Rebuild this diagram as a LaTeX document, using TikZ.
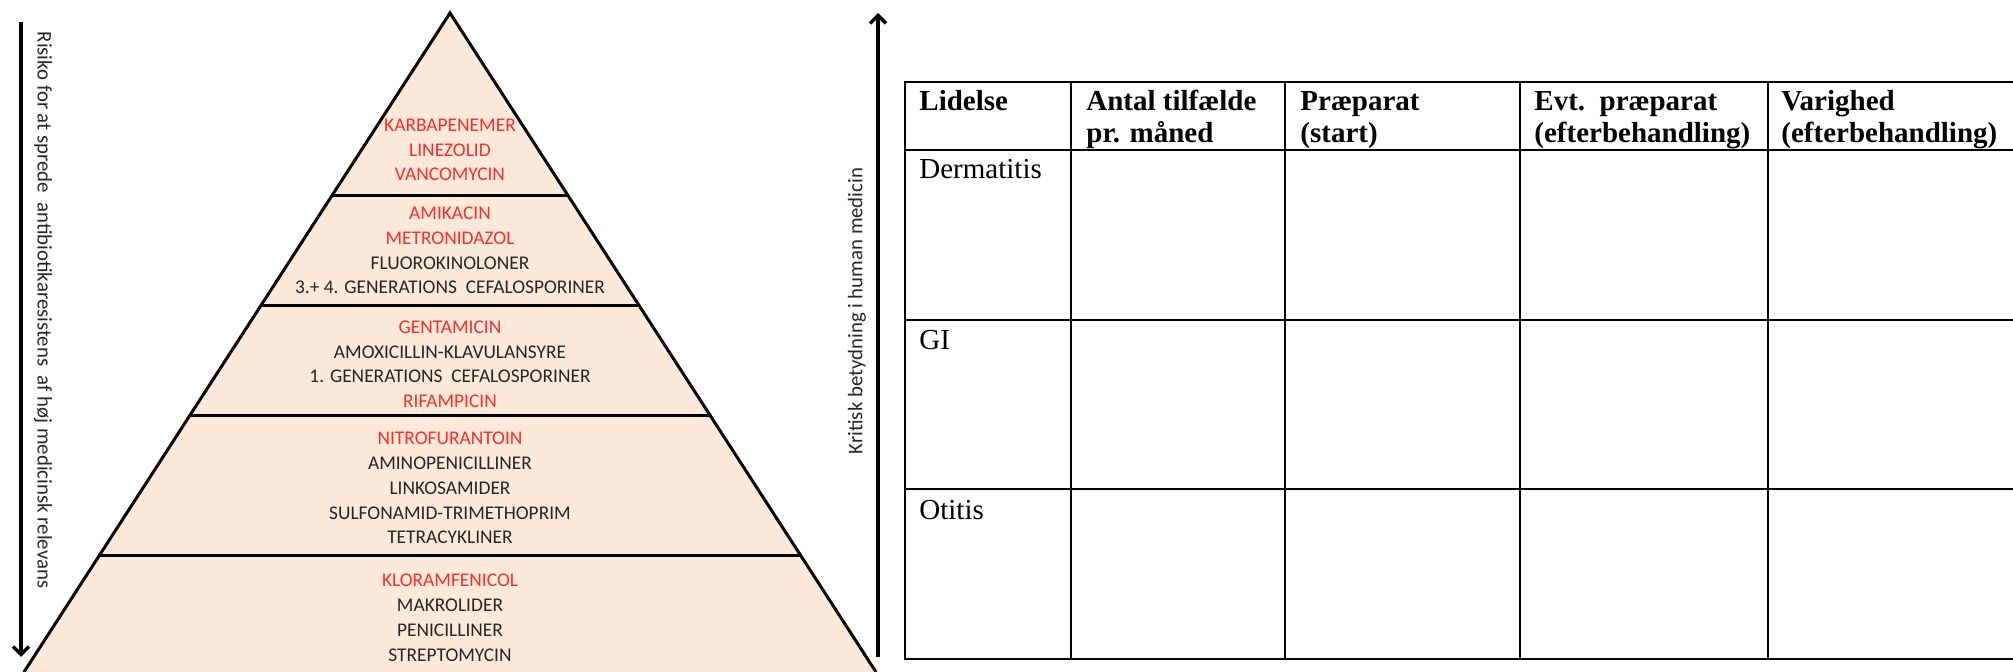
\documentclass[tikz,border=0pt]{standalone}
\usepackage{fontspec}
\setmainfont{Liberation Serif}
\newfontfamily\calibri{Carlito}
\usetikzlibrary{arrows.meta,calc}

\definecolor{peach}{HTML}{FDE9D9}
\definecolor{drugred}{RGB}{250,45,45}
\definecolor{drugdark}{RGB}{38,38,38}

\tikzset{
	drug/.style={anchor=base, inner sep=0pt, font=\calibri\fontsize{9.7}{12}\selectfont},
	sidelabel/.style={inner sep=0pt, text=drugdark, font=\calibri\fontsize{10.4}{12}\selectfont},
	axisarrow/.style={line width=1.75pt, -{Straight Barb[length=4pt,width=8pt]}},
	tablerule/.style={line width=1.35pt, line cap=rect},
	cell/.style={anchor=base west, inner sep=0pt, font=\fontsize{14.5}{16.5}\selectfont},
	headcell/.style={cell, font=\bfseries\fontsize{14.5}{16.5}\selectfont},
}

\begin{document}
\begin{tikzpicture}[x=0.5pt,y=-0.5pt]
		\useasboundingbox (0,0) rectangle (2013,672);

		% Pyramid
		\coordinate (top) at (450,13);
		\coordinate (bl) at (24,672);
		\coordinate (br) at (876,672);
		\fill[peach] (top) -- (bl) -- (br) -- cycle;
		\draw[line width=1.5pt] (bl) -- (top) -- (br);
		\foreach \y in {196,306,416,556} {
				\draw[line width=1.5pt] ($(top)!{(\y-13)/659}!(bl)$) -- ($(top)!{(\y-13)/659}!(br)$);
			}

		% Drug names, band by band
		\foreach \y/\col/\txt [count=\i] in {
				131.6/drugred/KARBAPENEMER, 156.4/drugred/LINEZOLID, 181/drugred/VANCOMYCIN,
				219.5/drugred/AMIKACIN, 244.7/drugred/METRONIDAZOL, 269.2/drugdark/FLUOROKINOLONER,
				294/drugdark/{3.+ 4. GENERATIONS\ \ CEFALOSPORINER},
				334/drugred/GENTAMICIN, 358.7/drugdark/AMOXICILLIN-KLAVULANSYRE,
				383/drugdark/{1. GENERATIONS\ \ CEFALOSPORINER}, 408/drugred/RIFAMPICIN,
				445/drugred/NITROFURANTOIN, 470/drugdark/AMINOPENICILLINER, 494.6/drugdark/LINKOSAMIDER,
				519.5/drugdark/SULFONAMID-TRIMETHOPRIM, 544/drugdark/TETRACYKLINER,
				587/drugred/KLORAMFENICOL, 612/drugdark/MAKROLIDER, 636.5/drugdark/PENICILLINER,
				661.8/drugdark/STREPTOMYCIN} {
				\node[drug, text=\col] (drug\i) at (450,\y) {\txt};
			}

		% Axes
		\coordinate (riskstart) at (21,22);
		\coordinate (riskend) at (21,657);
		\draw[axisarrow] (riskstart) -- (riskend);
		\node[sidelabel, rotate=-90] (risk) at (43,310) {Risiko for at sprede\ \ antibiotikaresistens\ \ af høj medicinsk relevans};

		\coordinate (critstart) at (878,657);
		\coordinate (critend) at (878,13);
		\draw[axisarrow] (critstart) -- (critend);
		\node[sidelabel, rotate=90] (crit) at (857,311) {Kritisk betydning i human medicin};

		% Table
		\foreach \y in {82,150,320,489,659} {
				\draw[tablerule] (905,\y) -- (2020,\y);
			}
		\foreach \x in {905,1071,1285,1520,1768} {
				\draw[tablerule] (\x,82) -- (\x,659);
			}

		% Header
		\foreach \x/\first/\second [count=\i] in {
				919/Lidelse/{}, 1086/Antal tilfælde/pr. måned, 1300/Præparat/(start),
				1534/{Evt.\ \ præparat}/(efterbehandling), 1781/Varighed/(efterbehandling)} {
				\node[headcell] (head\i) at (\x,110.6) {\first};
				\node[headcell] (headb\i) at (\x,143) {\second};
			}

		% Rows
		\node[cell] (derm) at (919,179) {Dermatitis};
		\node[cell] (gi) at (919,350) {GI};
		\node[cell] (otitis) at (919,520) {Otitis};
	\end{tikzpicture}
\end{document}
